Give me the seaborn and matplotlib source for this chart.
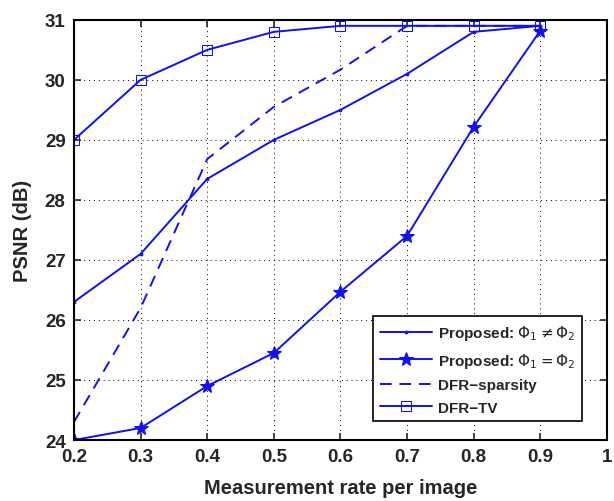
import numpy as np
import pandas as pd
import seaborn as sns
import matplotlib.pyplot as plt

sns.set_theme(style="ticks")
plt.rcParams["font.family"] = ["Liberation Sans", "DejaVu Sans"]
plt.rcParams["mathtext.fontset"] = "dejavusans"

rates = [0.2, 0.3, 0.4, 0.5, 0.6, 0.7, 0.8, 0.9]
proposed_diff = [26.3, 27.1, 28.35, 29.0, 29.5, 30.1, 30.8, 30.9]
proposed_same = [24.0, 24.2, 24.9, 25.45, 26.47, 27.4, 29.22, 30.82]
dfr_sparsity = [24.3, 26.2, 28.68, 29.55, 30.17, 30.9, 30.9, 30.9]
dfr_tv = [29.0, 30.0, 30.5, 30.8, 30.9, 30.9, 30.9, 30.9]

labels = [
    r"Proposed: $\Phi_1 \neq \Phi_2$",
    r"Proposed: $\Phi_1 = \Phi_2$",
    "DFR\u2212sparsity",
    "DFR\u2212TV",
]
series = [proposed_diff, proposed_same, dfr_sparsity, dfr_tv]

blue = "#1010f0"
styles = [
    dict(marker=".", markersize=4, linestyle="-"),
    dict(marker="*", markersize=10, linestyle="-"),
    dict(marker=None, linestyle=(0, (6, 4))),
    dict(marker="s", markersize=7, linestyle="-", markerfacecolor="none"),
]

fig = plt.figure(figsize=(6.14, 5.02), dpi=100)
ax = fig.add_axes([0.1205, 0.1215, 0.868, 0.837])

for vals, lab, st in zip(series, labels, styles):
    df = pd.DataFrame({"rate": rates, "psnr": vals})
    sns.lineplot(data=df, x="rate", y="psnr", ax=ax, color=blue, linewidth=1.4,
                 label=lab, markeredgecolor=blue, **st)

ax.set_xlim(0.2, 1.0)
ax.set_ylim(24, 31)
ax.set_xticks([0.2, 0.3, 0.4, 0.5, 0.6, 0.7, 0.8, 0.9, 1.0])
ax.set_xticklabels(["0.2", "0.3", "0.4", "0.5", "0.6", "0.7", "0.8", "0.9", "1"])
ax.set_yticks(range(24, 32))
ax.grid(True, color="black", linestyle=(0, (1, 4)), linewidth=0.7)
for sp in ax.spines.values():
    sp.set_visible(True)
    sp.set_linewidth(1.5)
    sp.set_color("black")
ax.tick_params(direction="in", length=5, width=1.2, labelsize=13.5, pad=6,
               top=True, right=True)
for t in ax.get_xticklabels() + ax.get_yticklabels():
    t.set_fontweight("bold")

ax.set_xlabel("Measurement rate per image", fontsize=14.5, fontweight="bold", labelpad=9)
ax.set_ylabel("PSNR (dB)", fontsize=14.5, fontweight="bold", labelpad=9)

leg = ax.legend(loc="lower right", bbox_to_anchor=(0.968, 0.026), frameon=True,
                fancybox=False, edgecolor="black", framealpha=1,
                prop={"weight": "bold", "size": 11}, handlelength=3.4,
                borderpad=0.45, labelspacing=0.55, handletextpad=0.4)
leg.get_frame().set_linewidth(1.2)

fig.savefig("out.png", dpi=100)
